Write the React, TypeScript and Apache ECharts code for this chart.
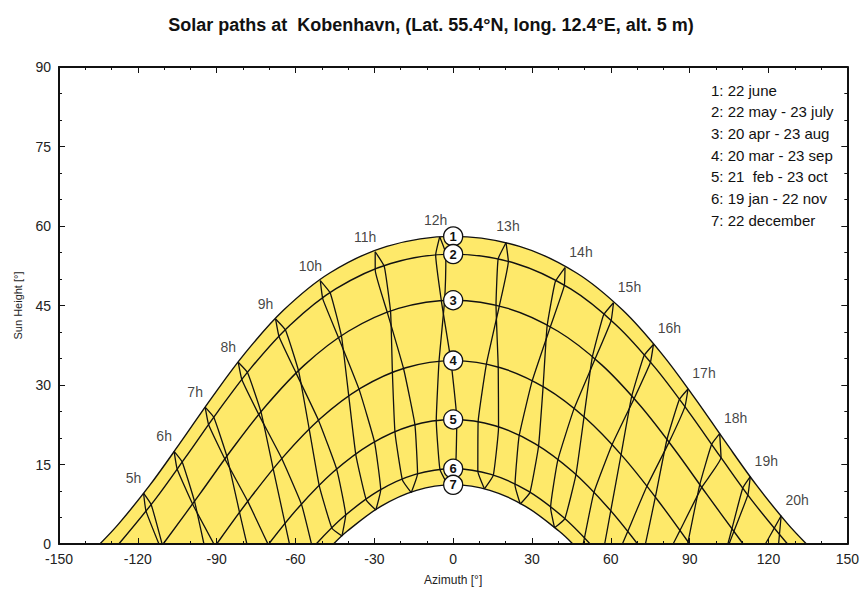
import React, { useEffect, useRef } from "react";
import * as echarts from "echarts";

const titleText = "Solar paths at  Kobenhavn, (Lat. 55.4°N, long. 12.4°E, alt. 5 m)";
const legendLines = [
  "1: 22 june",
  "2: 22 may - 23 july",
  "3: 20 apr - 23 aug",
  "4: 20 mar - 23 sep",
  "5: 21  feb - 23 oct",
  "6: 19 jan - 22 nov",
  "7: 22 december",
];
const circleLabels = ["1", "2", "3", "4", "5", "6", "7"];
const circlePeaks = [58.04, 54.7, 46.0, 34.6, 23.5, 14.2, 11.16];

// date curves [azimuth, height]
const june22 = [[-134.46,0],[-127.22,3.84],[-115.43,11.1],[-103.83,19.11],[-91.97,27.53],[-79.19,36.01],[-64.6,44.09],[-46.98,51.13],[-25.25,56.16],[0,58.04],[25.25,56.16],[46.98,51.13],[64.6,44.09],[79.19,36.01],[91.97,27.53],[103.83,19.11],[115.43,11.1],[127.22,3.84],[134.46,0]];
const may22jul23 = [[-127.25,0],[-113.54,8.33],[-101.74,16.43],[-89.69,24.89],[-76.76,33.33],[-62.11,41.29],[-44.72,48.13],[-23.78,52.93],[0,54.7],[23.78,52.93],[44.72,48.13],[62.11,41.29],[76.76,33.33],[89.69,24.89],[101.74,16.43],[113.54,8.33],[127.25,0]];
const apr20aug23 = [[-110.37,0],[-96.53,9.36],[-84.18,17.87],[-71.07,26.17],[-56.53,33.8],[-39.88,40.14],[-20.82,44.45],[0,46.0],[20.82,44.45],[39.88,40.14],[56.53,33.8],[71.07,26.17],[84.18,17.87],[96.53,9.36],[110.37,0]];
const mar20sep23 = [[-90,0],[-77.57,8.45],[-64.57,16.49],[-50.54,23.67],[-35.05,29.45],[-18.03,33.26],[0,34.6],[18.03,33.26],[35.05,29.45],[50.54,23.67],[64.57,16.49],[77.57,8.45],[90,0]];
const feb21oct23 = [[-70.18,0],[-58.87,6.9],[-45.56,13.62],[-31.25,18.91],[-15.94,22.32],[0,23.5],[15.94,22.32],[31.25,18.91],[45.56,13.62],[58.87,6.9],[70.18,0]];
const jan19nov22 = [[-52.13,0],[-41.72,5.13],[-28.42,10.02],[-14.42,13.13],[0,14.2],[14.42,13.13],[28.42,10.02],[41.72,5.13],[52.13,0]];
const dec22 = [[-45.54,0],[-40.49,2.35],[-27.53,7.11],[-13.96,10.13],[0,11.16],[13.96,10.13],[27.53,7.11],[40.49,2.35],[45.54,0]];

// hour lines: A = december -> june, B = june -> december
const h5A = [[-110.66,-0.19],[-114.94,7.47],[-117.83,9.62]];
const h5B = [[-117.83,9.62],[-116.91,6.26],[-111.4,-0.69]];
const h6A = [[-94.84,0],[-98.44,8.06],[-103.12,15.49],[-106.19,17.48]];
const h6B = [[-106.19,17.48],[-105.04,14.16],[-99.17,7.56],[-90.61,-0.41]];
const h7A = [[-78.5,0],[-81.28,5.93],[-86.11,16.54],[-91.1,23.9],[-94.38,25.82]];
const h7B = [[-94.38,25.82],[-93.06,22.52],[-86.86,16.03],[-78.17,8.04],[-70.37,-0.12]];
const h8A = [[-62.29,0],[-63.95,3.8],[-68.45,14.09],[-73.12,24.87],[-78.27,32.35],[-81.79,34.29]];
const h8B = [[-81.79,34.29],[-80.38,30.97],[-73.91,24.37],[-65.2,16.1],[-57.72,7.48],[-53.57,-0.72]];
const h9A = [[-42.32,1.5],[-46.12,2.96],[-50.93,10.91],[-54.73,21.53],[-58.81,32.6],[-63.82,40.36],[-67.57,42.45]];
const h9B = [[-67.57,42.45],[-66.21,39.06],[-59.68,32.15],[-51.22,23.32],[-44.32,14.08],[-40.92,5.42],[-42.32,1.5]];
const h10A = [[-29.43,6.41],[-33.06,8.31],[-37.02,16.78],[-39.68,27.72],[-42.49,39.15],[-46.75,47.33],[-50.56,49.7]];
const h10B = [[-50.56,49.7],[-49.59,46.21],[-43.49,38.77],[-35.8,29.17],[-29.92,19.21],[-27.58,10.21],[-29.43,6.41]];
const h11A = [[-15.95,9.69],[-19.3,12.05],[-22.12,20.94],[-23.11,32.12],[-23.81,43.77],[-26.22,52.37],[-29.67,55.14]];
const h11B = [[-29.67,55.14],[-29.64,51.59],[-24.95,43.52],[-18.86,33.07],[-14.56,22.52],[-13.55,13.25],[-15.95,9.69]];
const h12A = [[-2.05,11.14],[-5.03,14.07],[-6.43,23.31],[-5.38,34.48],[-3.26,45.96],[-2.77,54.68],[-5.13,57.96]];
const h12B = [[-5.13,57.96],[-6.66,54.56],[-4.51,45.93],[-0.88,34.6],[1.38,23.49],[0.87,14.2],[-2.05,11.14]];
const h13A = [[11.91,10.41],[9.39,13.75],[9.51,23.08],[12.65,33.94],[17.56,44.9],[21.0,53.32],[20.11,56.85]];
const h13B = [[20.11,56.85],[17.12,53.78],[16.31,45.05],[17.15,33.39],[17.27,22.02],[15.26,12.94],[11.91,10.41]];
const h14A = [[25.54,7.55],[23.54,11.1],[25.08,20.29],[29.97,30.59],[36.89,40.82],[42.28,48.69],[42.56,52.15]];
const h14B = [[42.56,52.15],[38.86,49.47],[35.75,41.07],[34.22,29.64],[32.49,18.45],[29.22,9.73],[25.54,7.55]];
const h15A = [[38.59,3.05],[37.08,6.83],[39.79,15.75],[45.91,25.4],[53.92,34.79],[60.08,42.09],[61.02,45.52]];
const h15B = [[61.02,45.52],[57.24,43.21],[52.92,35.17],[49.79,23.95],[46.71,13.04],[42.48,4.76],[38.59,3.05]];
const h16A = [[49.49,0],[49.94,1.08],[53.5,9.61],[60.38,18.63],[68.79,27.37],[75.05,34.26],[76.22,37.65]];
const h16B = [[76.22,37.65],[72.66,35.56],[67.92,27.82],[63.89,16.84],[59.96,6.23],[57.65,0]];
const h17A = [[64.4,0],[66.39,2.32],[73.69,10.85],[82.13,19.17],[88.18,25.87],[89.37,29.25]];
const h17B = [[89.37,29.25],[86.07,27.25],[81.34,19.67],[76.94,8.84],[72.56,-1.44]];
const h18A = [[83.7,0],[86.29,2.52],[94.59,10.69],[101.94,16.3],[101.42,20.82]];
const h18B = [[101.42,20.82],[98.37,18.8],[93.85,11.2],[89.4,0.41],[89.2,0]];
const h19A = [[104.99,0],[106.82,2.37],[112.16,9.27],[113.07,12.73]];
const h19B = [[113.07,12.73],[110.24,10.6],[106.09,2.87],[104.55,0]];
const h20A = [[123.84,0],[124.17,1.79],[124.82,5.32]];
const h20B = [[124.82,5.32],[122.2,3.0],[118.81,0]];

const hourList = [5,6,7,8,9,10,11,12,13,14,15,16,17,18,19,20];
const hourA = [h5A,h6A,h7A,h8A,h9A,h10A,h11A,h12A,h13A,h14A,h15A,h16A,h17A,h18A,h19A,h20A];
const hourB = [h5B,h6B,h7B,h8B,h9B,h10B,h11B,h12B,h13B,h14B,h15B,h16B,h17B,h18B,h19B,h20B];

const dateCurves = [june22, may22jul23, apr20aug23, mar20sep23, feb21oct23, jan19nov22, dec22];

const FONT = '"Liberation Sans", Arial, sans-serif';
const INK = "#111111";
const YELLOW = "#FEE96A";

export default function App() {
  const ref = useRef<HTMLDivElement>(null);
  useEffect(() => {
    if (!ref.current) return;
    const chart = echarts.init(ref.current, undefined, { renderer: "svg" });
    const series: any[] = [];
    dateCurves.forEach((pts, i) => {
      const s: any = {
        type: "line",
        data: pts,
        smooth: 0.35,
        symbol: "none",
        silent: true,
        lineStyle: { color: INK, width: 1.4 },
        z: i === 0 ? 1 : i === 6 ? 2 : 3,
      };
      if (i === 0) s.areaStyle = { color: YELLOW, opacity: 1 };
      if (i === 6) s.areaStyle = { color: "#ffffff", opacity: 1 };
      series.push(s);
    });
    hourList.forEach((h, k) => {
      [hourA[k], hourB[k]].forEach((pts) => {
        series.push({
          type: "line",
          data: pts,
          smooth: 0.12,
          symbol: "none",
          silent: true,
          lineStyle: { color: INK, width: 1.3 },
          z: 3,
        });
      });
    });
    series.push({
      type: "scatter",
      z: 6,
      symbol: "circle",
      symbolSize: 19,
      silent: true,
      itemStyle: { color: "#fff", borderColor: INK, borderWidth: 1.3, opacity: 1 },
      label: {
        show: true,
        position: "inside",
        formatter: (p: any) => circleLabels[p.dataIndex],
        color: INK,
        fontWeight: "bold",
        fontSize: 13,
        fontFamily: FONT,
      },
      data: circlePeaks.map((v) => [0, v]),
    });
    series.push({
      type: "scatter",
      z: 6,
      symbolSize: 1,
      silent: true,
      itemStyle: { color: "rgba(0,0,0,0)" },
      data: hourList.map((h, k) => {
        const p = hourA[k][hourA[k].length - 1];
        const off = h < 12 ? [-10, -15] : h === 12 ? [-4, -17] : h === 13 ? [2, -17] : [16, -16];
        return {
          value: p,
          label: {
            show: true,
            position: "inside",
            offset: off,
            formatter: h + "h",
            color: "#111",
            fontSize: 14,
            fontFamily: FONT,
          },
        };
      }),
    });

    const commonX = {
      type: "value",
      min: -150,
      max: 150,
      interval: 30,
      z: 10,
      splitLine: { show: false },
      axisLine: { show: true, onZero: false, lineStyle: { color: INK, width: 2 } },
      axisTick: { show: true, inside: true, length: 6, lineStyle: { color: INK, width: 1 } },
      minorTick: { show: true, splitNumber: 3, length: 3, lineStyle: { color: INK, width: 1 } },
    };
    const commonY = {
      type: "value",
      min: 0,
      max: 90,
      interval: 15,
      z: 10,
      splitLine: { show: false },
      axisLine: { show: true, onZero: false, lineStyle: { color: INK, width: 2 } },
      axisTick: { show: true, inside: true, length: 6, lineStyle: { color: INK, width: 1 } },
      minorTick: { show: true, splitNumber: 3, length: 3, lineStyle: { color: INK, width: 1 } },
    };

    chart.setOption({
      animation: false,
      backgroundColor: "#fff",
      title: {
        text: titleText,
        left: "center",
        top: 11,
        textStyle: { fontSize: 18, fontWeight: "bold", fontFamily: FONT, color: "#111" },
      },
      grid: { left: 59, right: 12, top: 67, bottom: 43 },
      xAxis: [
        {
          ...commonX,
          position: "bottom",
          name: "Azimuth [°]",
          nameLocation: "middle",
          nameGap: 30,
          nameTextStyle: { fontSize: 12, color: "#222", fontFamily: FONT },
          axisLabel: { color: "#222", fontSize: 14, fontFamily: FONT, margin: 8 },
        },
        { ...commonX, position: "top", axisLabel: { show: false } },
      ],
      yAxis: [
        {
          ...commonY,
          position: "left",
          name: "Sun Height [°]",
          nameLocation: "middle",
          nameGap: 36,
          nameTextStyle: { fontSize: 11, color: "#222", fontFamily: FONT },
          axisLabel: { color: "#222", fontSize: 14, fontFamily: FONT, margin: 8 },
        },
        { ...commonY, position: "right", axisLabel: { show: false } },
      ],
      graphic: legendLines.map((t, i) => ({
        type: "text",
        x: 711,
        y: 90 + i * 21.7,
        z: 20,
        style: {
          text: t,
          fill: "#111",
          font: "15px " + FONT,
          verticalAlign: "middle",
          align: "left",
        },
      })),
      series,
    });
    return () => chart.dispose();
  }, []);
  return (
    <div
      ref={ref}
      style={{ position: "absolute", left: 0, top: 0, width: 862, height: 591 }}
    />
  );
}
